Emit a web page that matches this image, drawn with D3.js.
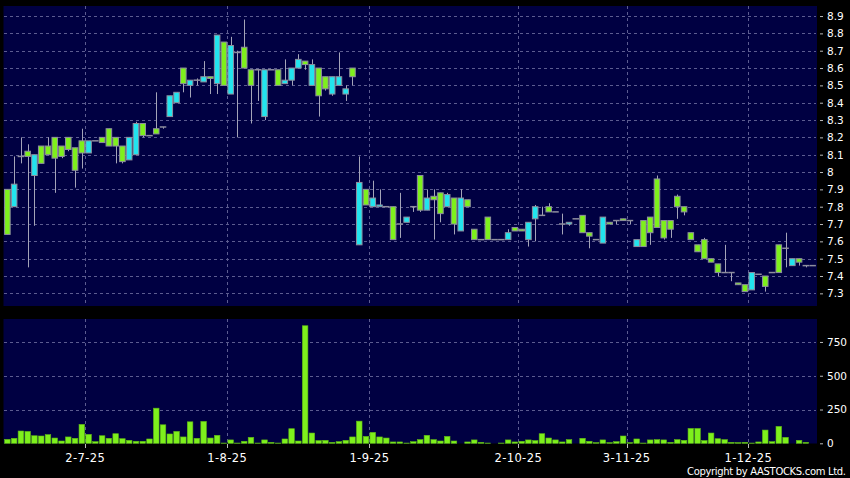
<!DOCTYPE html>
<html>
<head>
<meta charset="utf-8">
<script src="https://cdn.jsdelivr.net/npm/d3@7/dist/d3.min.js"></script>
<style>
  body { margin: 0; background: #000; }
  svg { display: block; }
  text { font-family: "DejaVu Sans", sans-serif; fill: #fff; }
</style>
</head>
<body>
<div id="chart"></div>
<script>
// daily OHLC, one entry per trading slot (120 slots)
var open = [7.90,7.80,8.09,8.12,7.98,8.15,8.15,8.20,8.15,8.20,
            8.14,8.18,8.11,8.18,8.20,8.25,8.20,8.15,8.07,8.10,
            8.28,8.21,8.25,8.26,8.32,8.40,8.60,8.50,8.53,8.52,
            8.55,8.51,8.75,8.45,8.69,8.72,8.59,8.59,8.32,8.59,
            8.59,8.51,8.53,8.60,8.64,8.50,8.60,8.55,8.45,8.50,
            8.45,8.60,7.58,7.90,7.80,7.80,7.80,7.80,7.70,7.71,
            7.80,7.98,7.78,7.86,7.88,7.80,7.85,7.66,7.84,7.67,
            7.61,7.74,7.61,7.61,7.61,7.68,7.67,7.61,7.73,7.75,
            7.80,7.77,7.70,7.70,7.73,7.75,7.65,7.61,7.59,7.71,
            7.72,7.73,7.72,7.57,7.72,7.74,7.96,7.72,7.72,7.86,
            7.80,7.65,7.58,7.61,7.50,7.47,7.42,7.42,7.36,7.35,
            7.32,7.41,7.40,7.42,7.58,7.56,7.46,7.50,7.46,7.46];
var high = [7.90,8.09,8.20,8.16,8.10,8.15,8.20,8.20,8.15,8.20,
            8.14,8.25,8.18,8.18,8.20,8.25,8.20,8.15,8.20,8.29,
            8.28,8.21,8.46,8.26,8.44,8.46,8.60,8.53,8.54,8.64,
            8.55,8.79,8.75,8.78,8.70,8.88,8.59,8.59,8.59,8.59,
            8.59,8.65,8.60,8.68,8.64,8.65,8.60,8.55,8.55,8.69,
            8.50,8.60,8.09,7.90,7.95,7.90,7.80,7.80,7.88,7.74,
            7.80,7.98,7.90,7.90,7.88,7.88,7.85,7.90,7.84,7.67,
            7.61,7.74,7.61,7.61,7.67,7.68,7.67,7.71,7.81,7.80,
            7.82,7.77,7.76,7.71,7.73,7.75,7.65,7.61,7.74,7.71,
            7.72,7.73,7.72,7.61,7.72,7.74,7.98,7.72,7.72,7.87,
            7.80,7.65,7.58,7.62,7.50,7.47,7.58,7.42,7.36,7.35,
            7.42,7.41,7.40,7.42,7.58,7.65,7.50,7.50,7.46,7.46];
var low = [7.64,7.80,8.05,7.45,7.69,8.05,8.10,7.88,8.08,8.12,
           7.91,8.02,8.11,8.18,8.17,8.15,8.05,8.05,8.07,8.10,
           8.20,8.21,8.22,8.25,8.32,8.40,8.46,8.43,8.50,8.52,
           8.45,8.45,8.50,8.45,8.20,8.60,8.28,8.41,8.30,8.59,
           8.50,8.51,8.50,8.60,8.59,8.50,8.32,8.47,8.44,8.50,
           8.41,8.50,7.58,7.81,7.80,7.80,7.80,7.61,7.62,7.71,
           7.77,7.77,7.78,7.61,7.71,7.80,7.64,7.66,7.80,7.61,
           7.61,7.61,7.61,7.61,7.61,7.66,7.66,7.57,7.60,7.75,
           7.77,7.77,7.64,7.69,7.73,7.65,7.56,7.61,7.59,7.70,
           7.70,7.72,7.70,7.57,7.57,7.58,7.68,7.61,7.62,7.73,
           7.75,7.61,7.54,7.50,7.48,7.40,7.42,7.37,7.35,7.31,
           7.32,7.41,7.31,7.42,7.42,7.45,7.46,7.46,7.45,7.46];
var close = [7.64,7.93,8.09,8.09,8.10,8.05,8.10,8.08,8.09,8.13,
             8.01,8.11,8.18,8.18,8.17,8.15,8.15,8.06,8.20,8.28,
             8.21,8.21,8.22,8.26,8.44,8.46,8.51,8.53,8.53,8.55,
             8.54,8.79,8.50,8.73,8.69,8.60,8.50,8.59,8.59,8.59,
             8.50,8.53,8.60,8.65,8.62,8.62,8.44,8.48,8.55,8.55,
             8.48,8.55,7.94,7.81,7.85,7.81,7.80,7.61,7.70,7.74,
             7.80,7.78,7.85,7.84,7.76,7.87,7.70,7.85,7.80,7.61,
             7.61,7.61,7.61,7.61,7.65,7.66,7.66,7.71,7.80,7.75,
             7.77,7.77,7.70,7.71,7.73,7.65,7.63,7.61,7.74,7.70,
             7.72,7.72,7.72,7.61,7.57,7.65,7.68,7.62,7.67,7.80,
             7.77,7.61,7.54,7.50,7.48,7.42,7.42,7.42,7.35,7.31,
             7.42,7.41,7.34,7.42,7.42,7.56,7.50,7.48,7.46,7.46];
var volume = [29,37,91,88,56,54,64,39,17,47,
              37,140,66,12,56,37,71,34,22,15,
              15,32,260,137,69,88,47,159,37,162,
              39,59,2,25,2,15,44,2,25,7,
              2,32,108,17,870,76,20,22,7,12,
              22,47,164,51,81,47,39,10,10,2,
              12,27,59,27,17,51,17,0,10,25,
              7,2,0,2,25,10,15,25,20,71,
              39,25,10,27,0,37,15,5,25,5,
              12,54,5,32,2,25,27,25,7,27,
              22,110,110,20,76,34,27,7,5,7,
              2,10,98,12,125,44,0,22,7,0];

var priceTicks = [7.3,7.4,7.5,7.6,7.7,7.8,7.9,8,8.1,8.2,8.3,8.4,8.5,8.6,8.7,8.8,8.9];
var volumeTicks = [0,250,500,750];
var dateLabels = ["2-7-25","1-8-25","1-9-25","2-10-25","3-11-25","1-12-25"];
var dateSlots = [12,33,54,76,92,110];

var width = 850, height = 478;
var navy = "#000042", gridColor = "#5c5c90";
var upColor = "#22e4ee", downColor = "#7ef01c", edgeColor = "#8e8e9e", wickColor = "#a4a4b8";

var svg = d3.select("#chart").append("svg")
  .attr("width", width)
  .attr("height", height);

var x = d3.scaleBand()
  .domain(d3.range(open.length))
  .range([4, 816])
  .paddingInner(0.18)
  .paddingOuter(0.09);

var yP = d3.scaleLinear().domain([7.227, 8.958]).range([306, 6]);
var yV = d3.scaleLinear().domain([0, 920]).range([443.3, 319]);

function slotLeft(i) {
  return x(i) - (x.step() - x.bandwidth()) / 2;
}

// panels
svg.append("rect").attr("x", 3.5).attr("y", 6).attr("width", 813.5).attr("height", 300).attr("fill", navy);
svg.append("rect").attr("x", 3.5).attr("y", 319).attr("width", 813.5).attr("height", 124.5).attr("fill", navy);

// grid
var grid = svg.append("g")
  .attr("stroke", gridColor)
  .attr("stroke-width", 1)
  .attr("stroke-dasharray", "3,3");

grid.selectAll(".hp").data(priceTicks).enter().append("line")
  .attr("x1", 4).attr("x2", 816)
  .attr("y1", function(d) { return Math.round(yP(d)) + 0.5; })
  .attr("y2", function(d) { return Math.round(yP(d)) + 0.5; });

grid.selectAll(".hv").data(volumeTicks.slice(1)).enter().append("line")
  .attr("x1", 4).attr("x2", 816)
  .attr("y1", function(d) { return Math.round(yV(d)) + 0.5; })
  .attr("y2", function(d) { return Math.round(yV(d)) + 0.5; });

grid.selectAll(".vp").data(dateSlots).enter().append("line")
  .attr("x1", function(d) { return Math.round(slotLeft(d)) + 0.5; })
  .attr("x2", function(d) { return Math.round(slotLeft(d)) + 0.5; })
  .attr("y1", 6).attr("y2", 306);

grid.selectAll(".vv").data(dateSlots).enter().append("line")
  .attr("x1", function(d) { return Math.round(slotLeft(d)) + 0.5; })
  .attr("x2", function(d) { return Math.round(slotLeft(d)) + 0.5; })
  .attr("y1", 319).attr("y2", 443);

// candles
var idx = d3.range(open.length);
var candles = svg.append("g");

candles.selectAll(".wick").data(idx).enter().append("line")
  .attr("x1", function(i) { return Math.round(x(i) + x.bandwidth() / 2) + 0.5; })
  .attr("x2", function(i) { return Math.round(x(i) + x.bandwidth() / 2) + 0.5; })
  .attr("y1", function(i) { return yP(high[i]); })
  .attr("y2", function(i) { return yP(low[i]); })
  .attr("stroke", wickColor)
  .attr("stroke-width", 1);

candles.selectAll(".body").data(idx.filter(function(i) { return open[i] !== close[i]; }))
  .enter().append("rect")
  .attr("x", function(i) { return x(i); })
  .attr("width", x.bandwidth())
  .attr("y", function(i) { return yP(Math.max(open[i], close[i])); })
  .attr("height", function(i) { return Math.max(1.5, Math.abs(yP(open[i]) - yP(close[i]))); })
  .attr("fill", function(i) { return close[i] > open[i] ? upColor : downColor; })
  .attr("stroke", edgeColor)
  .attr("stroke-width", 1);

candles.selectAll(".doji").data(idx.filter(function(i) { return open[i] === close[i]; }))
  .enter().append("line")
  .attr("x1", function(i) { return x(i) - 0.5; })
  .attr("x2", function(i) { return x(i) + x.bandwidth() + 0.5; })
  .attr("y1", function(i) { return yP(open[i]); })
  .attr("y2", function(i) { return yP(open[i]); })
  .attr("stroke", edgeColor)
  .attr("stroke-width", 1.5);

// volume bars
svg.append("g").selectAll("rect").data(idx.filter(function(i) { return volume[i] > 0; }))
  .enter().append("rect")
  .attr("x", function(i) { return x(i); })
  .attr("width", x.bandwidth())
  .attr("y", function(i) { return yV(volume[i]); })
  .attr("height", function(i) { return yV(0) - yV(volume[i]); })
  .attr("fill", downColor)
  .attr("stroke", "#5fb814")
  .attr("stroke-width", 0.6);

// right axes
var axisP = d3.axisRight(yP).tickValues(priceTicks).tickSize(3).tickPadding(4)
  .tickFormat(function(d) { return String(d); });
var gP = svg.append("g").attr("transform", "translate(820,0)").call(axisP);

var axisV = d3.axisRight(yV).tickValues(volumeTicks).tickSize(3).tickPadding(4);
var gV = svg.append("g").attr("transform", "translate(820,0)").call(axisV);

[gP, gV].forEach(function(g) {
  g.select(".domain").remove();
  g.selectAll(".tick line").attr("stroke", "#bbb");
  g.selectAll(".tick text").attr("fill", "#fff")
    .style("font-family", "DejaVu Sans, sans-serif").style("font-size", "10.5px");
});

// date axis
var dateAxis = svg.append("g");
dateAxis.selectAll("line").data(dateSlots).enter().append("line")
  .attr("x1", function(d) { return Math.round(slotLeft(d)) + 0.5; })
  .attr("x2", function(d) { return Math.round(slotLeft(d)) + 0.5; })
  .attr("y1", 444).attr("y2", 448)
  .attr("stroke", "#bbb");

dateAxis.selectAll("text").data(dateSlots).enter().append("text")
  .attr("x", function(d) { return slotLeft(d); })
  .attr("y", 462)
  .attr("text-anchor", "middle")
  .style("font-size", "11.5px")
  .style("letter-spacing", "0.4px")
  .text(function(d, i) { return dateLabels[i]; });

svg.append("text")
  .attr("x", 846).attr("y", 475)
  .attr("text-anchor", "end")
  .style("font-size", "10px")
  .attr("textLength", 159)
  .text("Copyright by AASTOCKS.com Ltd.");
</script>
</body>
</html>
